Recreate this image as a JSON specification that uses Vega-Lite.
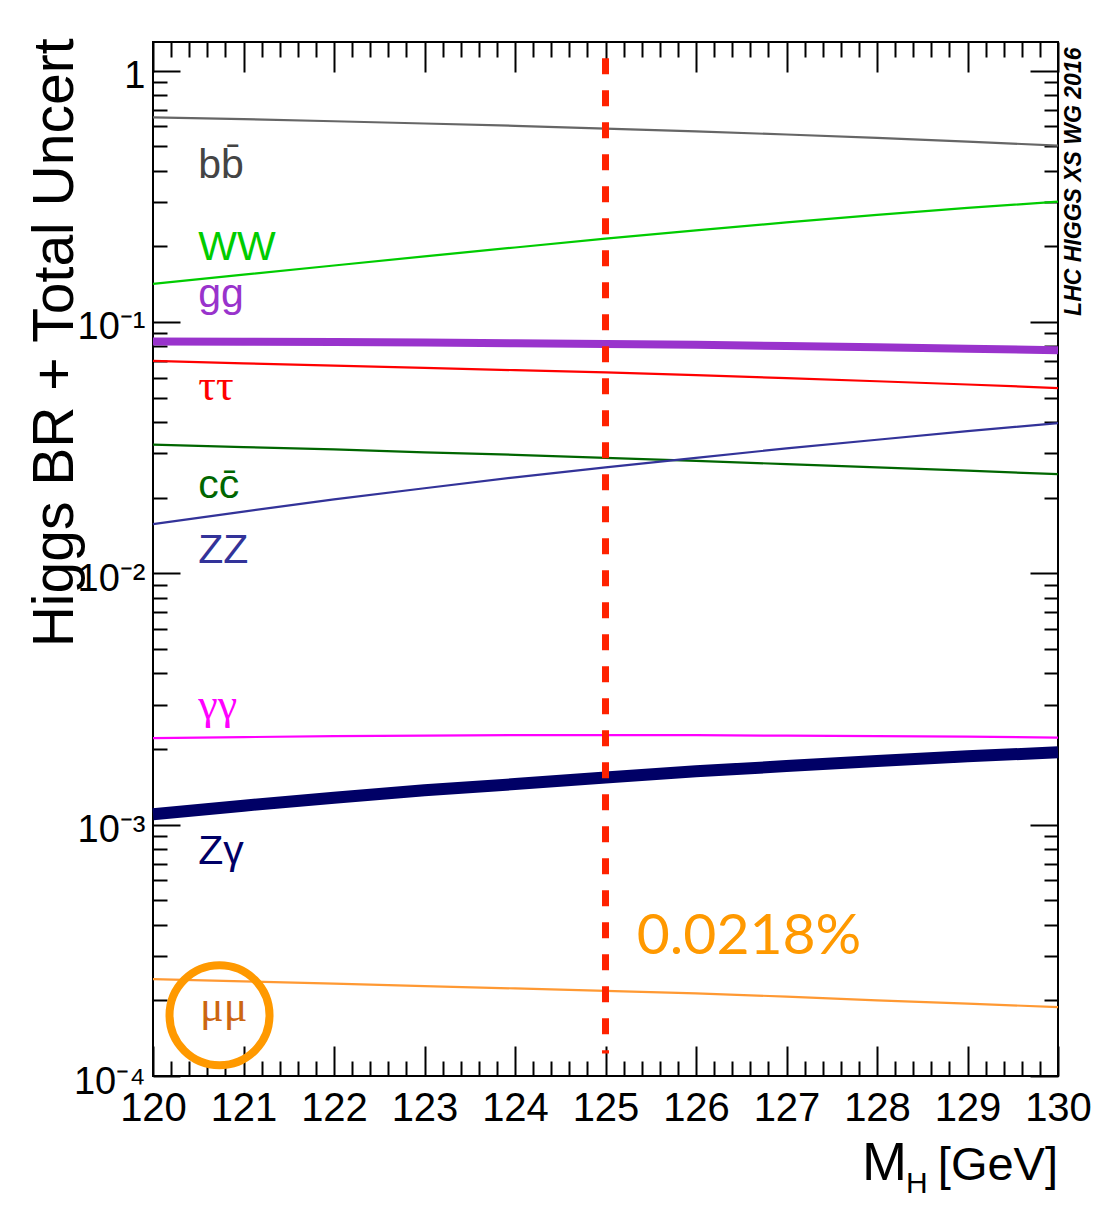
{
  "$schema": "https://vega.github.io/schema/vega-lite/v6.json",
  "width": 905,
  "height": 1034,
  "autosize": {"type": "none"},
  "padding": {"left": 153, "top": 42, "right": 52, "bottom": 140},
  "background": "white",
  "config": {
    "view": {"stroke": "black", "strokeWidth": 2},
    "axis": {
      "grid": false,
      "domain": false,
      "tickColor": "black",
      "tickWidth": 2,
      "labelColor": "black",
      "labelFont": "Liberation Sans",
      "labelOverlap": false,
      "labelFlush": false,
      "titleFont": "Liberation Sans",
      "titleFontWeight": "normal",
      "titleColor": "black"
    }
  },
  "datasets": {
    "br": [
      {"m": 120, "bb": 0.652, "WW": 0.1417, "gg": 0.0836, "tautau": 0.0700, "cc": 0.0325, "ZZ": 0.0157, "gamgam": 0.00221, "Zgam": 0.00110, "mumu": 0.000243},
      {"m": 121, "bb": 0.641, "WW": 0.1543, "gg": 0.0835, "tautau": 0.0685, "cc": 0.0318, "ZZ": 0.0176, "gamgam": 0.00223, "Zgam": 0.00119, "mumu": 0.000238},
      {"m": 122, "bb": 0.629, "WW": 0.1678, "gg": 0.0832, "tautau": 0.0671, "cc": 0.0311, "ZZ": 0.0197, "gamgam": 0.00225, "Zgam": 0.00128, "mumu": 0.000233},
      {"m": 123, "bb": 0.616, "WW": 0.1823, "gg": 0.0828, "tautau": 0.0657, "cc": 0.0303, "ZZ": 0.0218, "gamgam": 0.00226, "Zgam": 0.00137, "mumu": 0.000228},
      {"m": 124, "bb": 0.603, "WW": 0.1979, "gg": 0.0823, "tautau": 0.0643, "cc": 0.0296, "ZZ": 0.0241, "gamgam": 0.00227, "Zgam": 0.00145, "mumu": 0.000223},
      {"m": 125, "bb": 0.588, "WW": 0.2146, "gg": 0.0818, "tautau": 0.0630, "cc": 0.0288, "ZZ": 0.0264, "gamgam": 0.00227, "Zgam": 0.00154, "mumu": 0.000218},
      {"m": 126, "bb": 0.573, "WW": 0.2316, "gg": 0.0811, "tautau": 0.0614, "cc": 0.0280, "ZZ": 0.0288, "gamgam": 0.00227, "Zgam": 0.00163, "mumu": 0.000213},
      {"m": 127, "bb": 0.557, "WW": 0.2489, "gg": 0.0803, "tautau": 0.0598, "cc": 0.0272, "ZZ": 0.0314, "gamgam": 0.00226, "Zgam": 0.00171, "mumu": 0.000207},
      {"m": 128, "bb": 0.540, "WW": 0.2666, "gg": 0.0794, "tautau": 0.0581, "cc": 0.0264, "ZZ": 0.0340, "gamgam": 0.00225, "Zgam": 0.00179, "mumu": 0.000200},
      {"m": 129, "bb": 0.522, "WW": 0.2843, "gg": 0.0783, "tautau": 0.0564, "cc": 0.0256, "ZZ": 0.0368, "gamgam": 0.00224, "Zgam": 0.00187, "mumu": 0.000194},
      {"m": 130, "bb": 0.503, "WW": 0.3010, "gg": 0.0772, "tautau": 0.0546, "cc": 0.0248, "ZZ": 0.0396, "gamgam": 0.00222, "Zgam": 0.00194, "mumu": 0.000188}
    ],
    "labels": [
      {"ch": "bb", "txt": "bb\u0304", "m": 120.5, "br": 0.374},
      {"ch": "WW", "txt": "WW", "m": 120.5, "br": 0.176},
      {"ch": "gg", "txt": "gg", "m": 120.5, "br": 0.1145},
      {"ch": "tautau", "txt": "ττ", "m": 120.5, "br": 0.0488},
      {"ch": "cc", "txt": "cc\u0304", "m": 120.5, "br": 0.0200},
      {"ch": "ZZ", "txt": "ZZ", "m": 120.5, "br": 0.01103},
      {"ch": "gamgam", "txt": "γγ", "m": 120.5, "br": 0.00264},
      {"ch": "Zgam", "txt": "Zγ", "m": 120.5, "br": 0.000697},
      {"ch": "mumu", "txt": "μμ", "m": 120.52, "br": 0.000165}
    ],
    "marker": [{"m": 125, "top": 1.12, "bot": 0.000123}],
    "circle": [{"m": 120.735, "br": 0.0001745}],
    "note": [{"m": 126.586, "br": 0.000305, "txt": "0.0218%"}],
    "xtitle": [
      {"txt": "M", "part": "main", "m": 127.834, "br": 0.0000387},
      {"txt": "H", "part": "sub", "m": 128.32, "br": 0.0000341}
    ],
    "xunit": [{"txt": "[GeV]", "m": 130, "br": 0.0000387}]
  },
  "layer": [
    {
      "data": {"name": "br"},
      "transform": [
        {"fold": ["bb", "WW", "tautau", "cc", "ZZ", "gamgam", "mumu"], "as": ["ch", "br"]}
      ],
      "mark": {"type": "line", "strokeWidth": 2.2},
      "encoding": {
        "x": {"field": "m", "type": "quantitative", "scale": {"domain": [120, 130], "nice": false, "zero": false},
          "axis": {"orient": "bottom", "values": [120, 121, 122, 123, 124, 125, 126, 127, 128, 129, 130], "tickSize": -30, "labelPadding": 42, "labelFontSize": 40, "format": "d", "title": null}},
        "y": {"field": "br", "type": "quantitative", "scale": {"type": "log", "domain": [0.0001, 1.3], "nice": false},
          "axis": {"orient": "left", "values": [0.0001, 0.001, 0.01, 0.1, 1], "tickSize": -27, "labelPadding": 35, "labelFontSize": 38, "labelOffset": 6,
            "labelExpr": "datum.value >= 0.5 ? '1' : datum.value >= 0.05 ? '10⁻¹' : datum.value >= 0.005 ? '10⁻²' : datum.value >= 0.0005 ? '10⁻³' : '10⁻⁴'",
            "title": "Higgs BR + Total Uncert", "titleFontSize": 57, "titleAngle": -90, "titleAlign": "right", "titleBaseline": "alphabetic", "titleX": -81, "titleY": -4}},
        "color": {"field": "ch", "type": "nominal", "legend": null,
          "scale": {"domain": ["bb", "WW", "tautau", "cc", "ZZ", "gamgam", "mumu"], "range": ["#666666", "#00cc00", "#ff0000", "#006600", "#333399", "#ff00ff", "#ff9933"]}}
      }
    },
    {
      "data": {"name": "br"},
      "mark": {"type": "line", "strokeWidth": 8, "color": "#9933cc"},
      "encoding": {
        "x": {"field": "m", "type": "quantitative", "scale": {"domain": [120, 130], "nice": false, "zero": false}, "axis": null},
        "y": {"field": "gg", "type": "quantitative", "scale": {"type": "log", "domain": [0.0001, 1.3], "nice": false}, "axis": null}
      }
    },
    {
      "data": {"name": "br"},
      "mark": {"type": "line", "strokeWidth": 12, "color": "#000066"},
      "encoding": {
        "x": {"field": "m", "type": "quantitative", "scale": {"domain": [120, 130], "nice": false, "zero": false}, "axis": null},
        "y": {"field": "Zgam", "type": "quantitative", "scale": {"type": "log", "domain": [0.0001, 1.3], "nice": false}, "axis": null}
      }
    },
    {
      "data": {"name": "marker"},
      "mark": {"type": "rule", "color": "#ff2200", "strokeWidth": 7, "strokeDash": [16, 16]},
      "encoding": {
        "x": {"field": "m", "type": "quantitative", "scale": {"domain": [120, 130], "nice": false, "zero": false},
          "axis": {"orient": "top", "values": [120.2, 120.4, 120.6, 120.8, 121.2, 121.4, 121.6, 121.8, 122.2, 122.4, 122.6, 122.8, 123.2, 123.4, 123.6, 123.8, 124.2, 124.4, 124.6, 124.8, 125.2, 125.4, 125.6, 125.8, 126.2, 126.4, 126.6, 126.8, 127.2, 127.4, 127.6, 127.8, 128.2, 128.4, 128.6, 128.8, 129.2, 129.4, 129.6, 129.8], "tickSize": -15, "labels": false, "title": null}},
        "y": {"field": "top", "type": "quantitative", "scale": {"type": "log", "domain": [0.0001, 1.3], "nice": false},
          "axis": {"orient": "right", "values": [0.0002, 0.0003, 0.0004, 0.0005, 0.0006, 0.0007, 0.0008, 0.0009, 0.002, 0.003, 0.004, 0.005, 0.006, 0.007, 0.008, 0.009, 0.02, 0.03, 0.04, 0.05, 0.06, 0.07, 0.08, 0.09, 0.2, 0.3, 0.4, 0.5, 0.6, 0.7, 0.8, 0.9], "tickSize": -14, "labels": false, "title": null}},
        "y2": {"field": "bot"}
      }
    },
    {
      "data": {"name": "labels"},
      "transform": [{"filter": "indexof(['tautau','gamgam','mumu'], datum.ch) < 0"}],
      "mark": {"type": "text", "align": "left", "baseline": "alphabetic", "font": "Liberation Sans", "fontSize": 41},
      "encoding": {
        "x": {"field": "m", "type": "quantitative", "scale": {"domain": [120, 130], "nice": false, "zero": false},
          "axis": {"orient": "bottom", "values": [120.2, 120.4, 120.6, 120.8, 121.2, 121.4, 121.6, 121.8, 122.2, 122.4, 122.6, 122.8, 123.2, 123.4, 123.6, 123.8, 124.2, 124.4, 124.6, 124.8, 125.2, 125.4, 125.6, 125.8, 126.2, 126.4, 126.6, 126.8, 127.2, 127.4, 127.6, 127.8, 128.2, 128.4, 128.6, 128.8, 129.2, 129.4, 129.6, 129.8], "tickSize": -15, "labels": false, "title": null}},
        "y": {"field": "br", "type": "quantitative", "scale": {"type": "log", "domain": [0.0001, 1.3], "nice": false},
          "axis": {"orient": "left", "values": [0.0002, 0.0003, 0.0004, 0.0005, 0.0006, 0.0007, 0.0008, 0.0009, 0.002, 0.003, 0.004, 0.005, 0.006, 0.007, 0.008, 0.009, 0.02, 0.03, 0.04, 0.05, 0.06, 0.07, 0.08, 0.09, 0.2, 0.3, 0.4, 0.5, 0.6, 0.7, 0.8, 0.9], "tickSize": -14, "labels": false, "title": null}},
        "text": {"field": "txt"},
        "color": {"field": "ch", "type": "nominal", "legend": null,
          "scale": {"domain": ["bb", "WW", "gg", "cc", "ZZ", "Zgam"], "range": ["#444444", "#00cc00", "#9933cc", "#006600", "#333399", "#000066"]}}
      }
    },
    {
      "data": {"name": "labels"},
      "transform": [{"filter": "indexof(['tautau','gamgam','mumu'], datum.ch) >= 0"}],
      "mark": {"type": "text", "align": "left", "baseline": "alphabetic", "font": "Liberation Serif", "fontSize": 44},
      "encoding": {
        "x": {"field": "m", "type": "quantitative", "scale": {"domain": [120, 130], "nice": false, "zero": false},
          "axis": {"orient": "top", "values": [120, 121, 122, 123, 124, 125, 126, 127, 128, 129, 130], "tickSize": -30, "labels": false, "title": null}},
        "y": {"field": "br", "type": "quantitative", "scale": {"type": "log", "domain": [0.0001, 1.3], "nice": false},
          "axis": {"orient": "right", "values": [0.0001, 0.001, 0.01, 0.1, 1], "tickSize": -28, "labels": false,
            "title": "LHC HIGGS XS WG 2016", "titleFont": "Liberation Sans", "titleFontWeight": "bold", "titleFontStyle": "italic", "titleFontSize": 23,
            "titleAngle": -90, "titleAlign": "right", "titleBaseline": "alphabetic", "titleX": 22, "titleY": 5}},
        "text": {"field": "txt"},
        "color": {"field": "ch", "type": "nominal", "legend": null,
          "scale": {"domain": ["tautau", "gamgam", "mumu"], "range": ["#ff0000", "#ff00ff", "#cc6611"]}}
      }
    },
    {
      "data": {"name": "circle"},
      "mark": {"type": "point", "shape": "circle", "filled": false, "size": 10000, "strokeWidth": 8, "color": "#ff9900", "opacity": 1},
      "encoding": {
        "x": {"field": "m", "type": "quantitative", "scale": {"domain": [120, 130], "nice": false, "zero": false}, "axis": null},
        "y": {"field": "br", "type": "quantitative", "scale": {"type": "log", "domain": [0.0001, 1.3], "nice": false}, "axis": null}
      }
    },
    {
      "data": {"name": "note"},
      "mark": {"type": "text", "align": "center", "baseline": "alphabetic", "font": "Lato", "fontSize": 57, "color": "#ff9900"},
      "encoding": {
        "x": {"field": "m", "type": "quantitative", "scale": {"domain": [120, 130], "nice": false, "zero": false}, "axis": null},
        "y": {"field": "br", "type": "quantitative", "scale": {"type": "log", "domain": [0.0001, 1.3], "nice": false}, "axis": null},
        "text": {"field": "txt"}
      }
    },
    {
      "data": {"name": "xtitle"},
      "mark": {"type": "text", "align": "left", "baseline": "alphabetic", "font": "Liberation Sans", "color": "black"},
      "encoding": {
        "x": {"field": "m", "type": "quantitative", "scale": {"domain": [120, 130], "nice": false, "zero": false}, "axis": null},
        "y": {"field": "br", "type": "quantitative", "scale": {"type": "log", "domain": [0.0001, 1.3], "nice": false}, "axis": null},
        "text": {"field": "txt"},
        "size": {"field": "part", "type": "nominal", "legend": null, "scale": {"type": "ordinal", "domain": ["main", "sub"], "range": [54, 30]}}
      }
    },
    {
      "data": {"name": "xunit"},
      "mark": {"type": "text", "align": "right", "baseline": "alphabetic", "font": "Liberation Sans", "fontSize": 47, "color": "black"},
      "encoding": {
        "x": {"field": "m", "type": "quantitative", "scale": {"domain": [120, 130], "nice": false, "zero": false}, "axis": null},
        "y": {"field": "br", "type": "quantitative", "scale": {"type": "log", "domain": [0.0001, 1.3], "nice": false}, "axis": null},
        "text": {"field": "txt"}
      }
    }
  ],
  "resolve": {
    "axis": {"x": "independent", "y": "independent"},
    "scale": {"color": "independent", "size": "independent"}
  }
}
